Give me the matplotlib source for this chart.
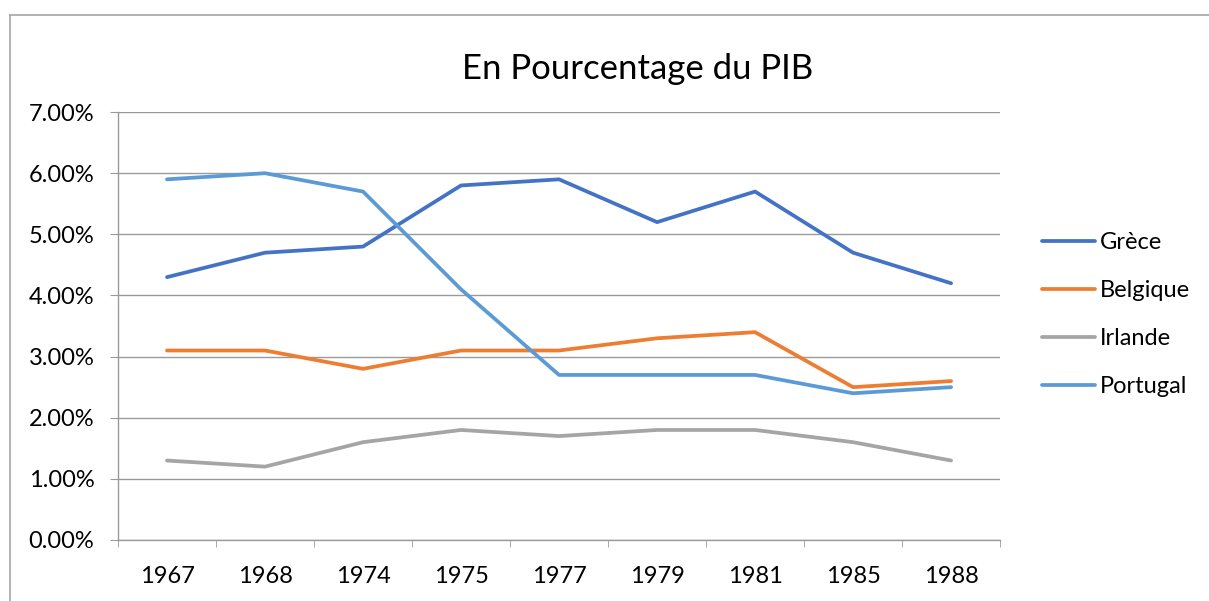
import matplotlib
matplotlib.use("Agg")
import matplotlib.pyplot as plt
from matplotlib.lines import Line2D
from matplotlib.ticker import FuncFormatter, FixedLocator

plt.rcParams["font.family"] = ["Lato", "DejaVu Sans"]

# ─── Données ───────────────────────────────────────────────
annees = ["1967", "1968", "1974", "1975", "1977", "1979", "1981", "1985", "1988"]
grece = [4.3, 4.7, 4.8, 5.8, 5.9, 5.2, 5.7, 4.7, 4.2]
belgique = [3.1, 3.1, 2.8, 3.1, 3.1, 3.3, 3.4, 2.5, 2.6]
irlande = [1.3, 1.2, 1.6, 1.8, 1.7, 1.8, 1.8, 1.6, 1.3]
portugal = [5.9, 6.0, 5.7, 4.1, 2.7, 2.7, 2.7, 2.4, 2.5]

series = [
    ("Grèce", grece, "#4472C4"),
    ("Belgique", belgique, "#ED7D31"),
    ("Irlande", irlande, "#A5A5A5"),
    ("Portugal", portugal, "#5B9BD5"),
]

GRID = "#9A9A9A"

fig = plt.figure(figsize=(12.09, 6.01), dpi=100)
ax = fig.add_axes([0.0976, 0.1015, 0.7296, 0.712])

x = list(range(len(annees)))
for nom, vals, col in series:
    ax.plot(x, [v / 100 for v in vals], color=col, linewidth=2.7,
            label=nom, solid_capstyle="round", solid_joinstyle="round")

ax.set_xlim(-0.5, len(annees) - 0.5)
ax.set_ylim(0, 0.07)
ax.set_yticks([i / 100 for i in range(8)])
ax.yaxis.set_major_formatter(FuncFormatter(lambda v, _: f"{v * 100:.2f}%"))
ax.set_xticks(x)
ax.set_xticklabels(annees)
ax.xaxis.set_minor_locator(FixedLocator([i - 0.5 for i in range(len(annees) + 1)]))

ax.grid(axis="y", color=GRID, linewidth=1)
ax.set_axisbelow(True)
for s in ("top", "right"):
    ax.spines[s].set_visible(False)
for s in ("left", "bottom"):
    ax.spines[s].set_color(GRID)
    ax.spines[s].set_linewidth(1)

ax.tick_params(axis="y", length=6, color=GRID, labelsize=17, pad=11)
ax.tick_params(axis="x", which="major", length=0, labelsize=17, pad=19)
ax.tick_params(axis="x", which="minor", length=5, color=GRID)

fig.text(0.527, 0.886, "En Pourcentage du PIB", ha="center", va="center", fontsize=25)

fig.legend(loc="center left", bbox_to_anchor=(0.8443, 0.4767), frameon=False,
           fontsize=17, handlelength=2.25, handletextpad=0.2, labelspacing=1.14)

# cadre du graphique (bord gauche et haut)
fig.add_artist(Line2D([10 / 1209, 10 / 1209], [0, 1 - 15 / 601],
                      transform=fig.transFigure, color="#A6A6A6", linewidth=1.2))
fig.add_artist(Line2D([10 / 1209, 1], [1 - 15 / 601, 1 - 15 / 601],
                      transform=fig.transFigure, color="#A6A6A6", linewidth=1.2))

fig.savefig("out.png", dpi=100)
